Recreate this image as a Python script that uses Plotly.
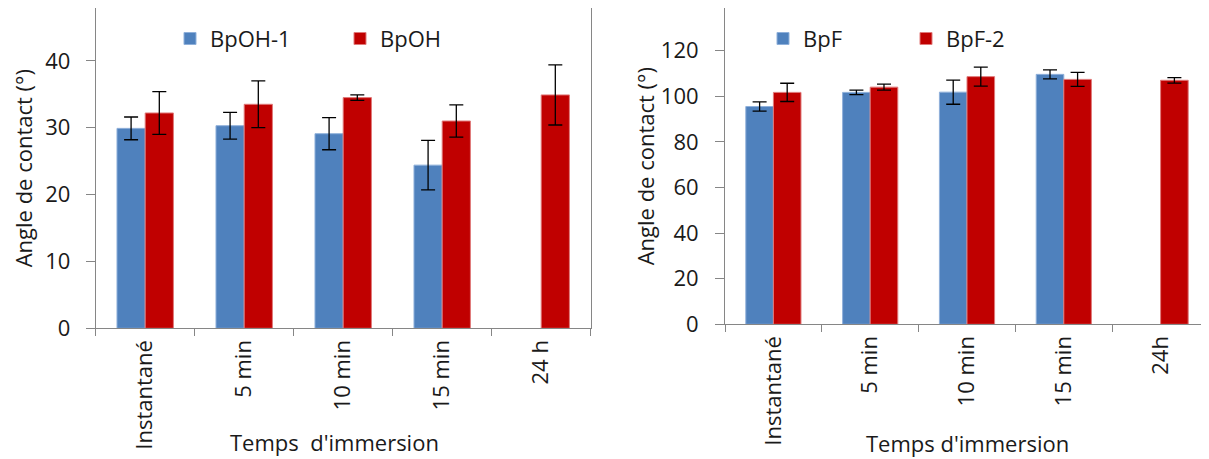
import plotly.graph_objects as go

# ---------------- data ----------------
categories_left = ["Instantané", "5 min", "10 min", "15 min", "24 h"]
categories_right = ["Instantané", "5 min", "10 min", "15 min", "24h"]

bpoh1 = [29.9, 30.3, 29.1, 24.4, None]
bpoh1_err = [1.7, 2.0, 2.4, 3.7, None]
bpoh = [32.2, 33.5, 34.5, 31.0, 34.9]
bpoh_err = [3.2, 3.5, 0.4, 2.4, 4.5]

bpf = [95.5, 101.7, 101.8, 109.6, None]
bpf_err = [2.0, 1.0, 5.3, 2.0, None]
bpf2 = [101.7, 104.0, 108.6, 107.4, 107.0]
bpf2_err = [4.0, 1.3, 4.2, 3.1, 1.2]

left_ticks = [0, 10, 20, 30, 40]
right_ticks = [0, 20, 40, 60, 80, 100, 120]

# ---------------- style ----------------
BLUE = "#4F81BD"
RED = "#C00000"
AXIS = "#868686"
TXT = "#1a1a1a"
FONT = "Open Sans"
FS = 22
W, H = 1201, 451  # page body adds an 8px margin


def px_x(p):
    return p / W


def px_y(p):
    return 1 - p / H


def err(vals):
    return dict(type="data", array=vals, visible=True, color="black",
                thickness=1.3, width=7)


fig = go.Figure()

fig.add_trace(go.Bar(x=categories_left, y=bpoh1, name="BpOH-1",
                     marker=dict(color=BLUE, line=dict(color="#8FB0DA", width=1)),
                     error_y=err(bpoh1_err), xaxis="x", yaxis="y", legend="legend"))
fig.add_trace(go.Bar(x=categories_left, y=bpoh, name="BpOH",
                     marker=dict(color=RED, line=dict(color="#E07A7A", width=1)),
                     error_y=err(bpoh_err), xaxis="x", yaxis="y", legend="legend"))
fig.add_trace(go.Bar(x=categories_right, y=bpf, name="BpF",
                     marker=dict(color=BLUE, line=dict(color="#8FB0DA", width=1)),
                     error_y=err(bpf_err), xaxis="x2", yaxis="y2", legend="legend2"))
fig.add_trace(go.Bar(x=categories_right, y=bpf2, name="BpF-2",
                     marker=dict(color=RED, line=dict(color="#E07A7A", width=1)),
                     error_y=err(bpf2_err), xaxis="x2", yaxis="y2", legend="legend2"))

xcommon = dict(type="category", showline=True, linecolor=AXIS, linewidth=1,
               mirror=True, ticks="outside", tickson="boundaries", ticklen=7,
               tickcolor=AXIS, tickangle=-90, showgrid=False, zeroline=False,
               tickfont=dict(family=FONT, size=FS, color=TXT),
               ticklabelstandoff=2, automargin=False, fixedrange=True)
ycommon = dict(showline=True, linecolor=AXIS, linewidth=1,
               ticks="outside", ticklen=9, tickcolor=AXIS, showgrid=False,
               zeroline=False, tickfont=dict(family=FONT, size=FS, color=TXT),
               automargin=False, fixedrange=True)


def ytitle(standoff):
    return dict(text="Angle de contact (°)", standoff=standoff,
                font=dict(family=FONT, size=FS, color=TXT))


fig.update_layout(
    width=W, height=H,
    margin=dict(l=0, r=0, t=0, b=0),
    paper_bgcolor="white", plot_bgcolor="white",
    barmode="group", bargap=0.43, bargroupgap=0,
    font=dict(family=FONT, size=FS, color=TXT),
    xaxis=dict(domain=[px_x(87.7), px_x(582.7)], anchor="y", **xcommon),
    yaxis=dict(domain=[px_y(320.3), 1.0], anchor="x", range=[0, 47.9],
               tickvals=left_ticks, ticklabelstandoff=11, mirror=True,
               title=ytitle(6), **ycommon),
    xaxis2=dict(domain=[px_x(717), 1.0], anchor="y2", **xcommon),
    yaxis2=dict(domain=[px_y(316.3), 1.0], anchor="x2", range=[0, 138.7],
                tickvals=right_ticks, ticklabelstandoff=12, mirror=False,
                title=ytitle(0), **ycommon),
    legend=dict(orientation="h", x=px_x(162), xanchor="left",
                y=px_y(30.7), yanchor="middle", bgcolor="rgba(0,0,0,0)",
                borderwidth=0, entrywidth=125, entrywidthmode="pixels",
                font=dict(family=FONT, size=FS, color=TXT)),
    legend2=dict(orientation="h", x=px_x(755), xanchor="left",
                 y=px_y(30.7), yanchor="middle", bgcolor="rgba(0,0,0,0)",
                 borderwidth=0, entrywidth=98, entrywidthmode="pixels",
                 font=dict(family=FONT, size=FS, color=TXT)),
    annotations=[
        dict(text="Temps  d'immersion", x=px_x(326), y=px_y(434),
             xref="paper", yref="paper", xanchor="center", yanchor="middle",
             showarrow=False, font=dict(family=FONT, size=FS, color=TXT)),
        dict(text="Temps d'immersion", x=px_x(959), y=px_y(435),
             xref="paper", yref="paper", xanchor="center", yanchor="middle",
             showarrow=False, font=dict(family=FONT, size=FS, color=TXT)),
    ],
)

fig.write_html("out.html")
